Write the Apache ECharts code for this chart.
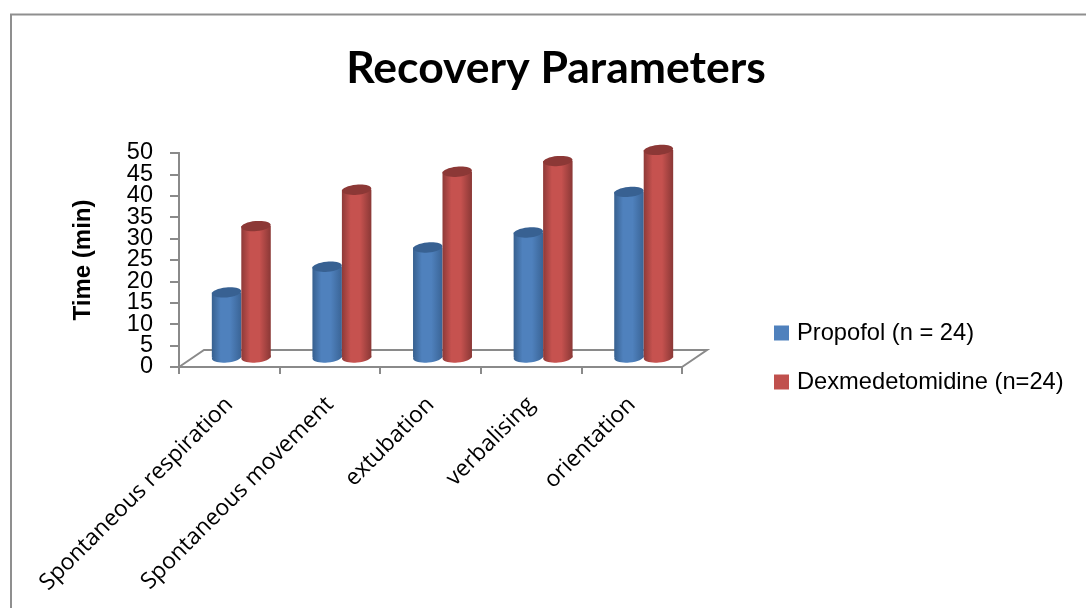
<!DOCTYPE html>
<html>
<head>
<meta charset="utf-8">
<style>html,body{margin:0;padding:0;background:#fff}#chart{width:1086px;height:608px}</style>
<script src="https://cdn.jsdelivr.net/npm/echarts@6/dist/echarts.min.js"></script>
</head>
<body>
<div id="chart"></div>
<script>
// Recovery times per milestone, in minutes
const categories = ['Spontaneous respiration', 'Spontaneous movement', 'extubation', 'verbalising', 'orientation'];
const propofol = [15.2, 21.2, 25.7, 29.2, 38.7];
const dexmedetomidine = [30.7, 39.2, 43.4, 45.9, 48.5];
const valueRange = { min: 0, max: 50 };
const decadeTicks = [0, 10, 20, 30, 40, 50];
const midTicks = [5, 15, 25, 35, 45];

// Pseudo-3D depth of the floor and of the column row standing on it
const FLOOR_DX = 25, FLOOR_DY = 17;
const ROW_DX = 12, ROW_DY = 9.5;
const COLUMN_RATIO = 0.293, ELLIPSE_RY = 5, TILT = 0.09;
const AXIS_COLOR = '#8a8a8a';

function shaded(edgeL, mid, edgeR) {
  return {
    type: 'linear', x: 0, y: 0, x2: 1, y2: 0,
    colorStops: [
      { offset: 0, color: edgeL }, { offset: 0.3, color: mid },
      { offset: 0.62, color: mid }, { offset: 1, color: edgeR }
    ]
  };
}

function cylinder(side, palette) {
  return function (params, api) {
    const x0 = api.coord([api.value(0), 0]);
    const top = api.coord([api.value(0), api.value(1)]);
    const w = api.size([1, 0])[0] * COLUMN_RATIO;
    const left = x0[0] + ROW_DX + (side < 0 ? -w : 0);
    const baseY = x0[1] - ROW_DY, topY = top[1] - ROW_DY;
    const cx = left + w / 2;
    const fill = shaded(palette.edgeL, palette.mid, palette.edgeR);
    return {
      type: 'group',
      children: [
        { type: 'ellipse', shape: { cx, cy: baseY, rx: w / 2, ry: ELLIPSE_RY }, rotation: TILT, originX: cx, originY: baseY, style: { fill } },
        { type: 'rect', shape: { x: left, y: topY, width: w, height: baseY - topY }, style: { fill } },
        { type: 'ellipse', shape: { cx, cy: topY, rx: w / 2, ry: ELLIPSE_RY }, rotation: TILT, originX: cx, originY: topY, style: { fill: palette.cap } }
      ]
    };
  };
}

// Floor outline behind the columns, derived from the plot rectangle
function floor(params, api) {
  const r = params.coordSys;
  const bottom = r.y + r.height, right = r.x + r.width;
  const style = { stroke: AXIS_COLOR, lineWidth: 2, fill: 'none' };
  return {
    type: 'polyline', silent: true,
    shape: { points: [[r.x, bottom], [r.x + FLOOR_DX, bottom - FLOOR_DY], [right + FLOOR_DX, bottom - FLOOR_DY], [right, bottom]] },
    style
  };
}

// The tick labels are packed tightly, so they are split over two coincident
// value axes to stop the neighbouring labels from hiding one another.
function valueAxis(ticks, extra) {
  return Object.assign({
    type: 'value', ...valueRange,
    splitLine: { show: false },
    axisLine: { show: true, lineStyle: { color: AXIS_COLOR, width: 2 } },
    axisTick: { show: true, length: 9, customValues: ticks, lineStyle: { color: AXIS_COLOR, width: 2 } },
    axisLabel: { margin: 26, padding: [5, 0, 0, 0], customValues: ticks, fontFamily: 'Liberation Sans', fontSize: 23.5, color: '#000' }
  }, extra);
}

const chart = echarts.init(document.getElementById('chart'), null, { renderer: 'canvas' });
chart.setOption({
  animation: false,
  backgroundColor: '#fff',
  graphic: [{
    type: 'rect', silent: true,
    shape: { x: 11, y: 14.5, width: 1200, height: 800 },
    style: { fill: 'none', stroke: '#8f8f8f', lineWidth: 2 }
  }],
  title: {
    text: 'Recovery Parameters', left: 551, top: 41, textAlign: 'center',
    textStyle: { fontFamily: 'Lato', fontWeight: 'bold', fontSize: 44.5, color: '#000' }
  },
  legend: {
    orient: 'vertical', left: 774, top: 321, itemGap: 25, itemWidth: 15, itemHeight: 15, padding: 0,
    icon: 'rect', selectedMode: false,
    data: ['Propofol (n = 24)', 'Dexmedetomidine (n=24)'],
    textStyle: { fontFamily: 'Liberation Sans', fontSize: 23.7, color: '#000', padding: [0, 0, 0, 3] }
  },
  grid: { left: 179, top: 153, width: 503, height: 214 },
  xAxis: {
    type: 'category', data: categories,
    axisLine: { lineStyle: { color: AXIS_COLOR, width: 2 } },
    axisTick: { show: true, alignWithLabel: false, length: 7, lineStyle: { color: AXIS_COLOR, width: 2 } },
    axisLabel: { rotate: 45, margin: 34, interval: 0, fontFamily: 'Open Sans', fontSize: 22.8, color: '#000' }
  },
  yAxis: [
    valueAxis(decadeTicks, {
      name: 'Time (min)', nameLocation: 'middle', nameRotate: 90, nameGap: 84,
      nameTextStyle: { fontFamily: 'Liberation Sans', fontWeight: 'bold', fontSize: 24, color: '#000' }
    }),
    valueAxis(midTicks, { position: 'left' })
  ],
  series: [
    { type: 'custom', coordinateSystem: 'cartesian2d', renderItem: floor, data: [[0, 0]], silent: true, z: 1 },
    {
      name: 'Propofol (n = 24)', type: 'custom', coordinateSystem: 'cartesian2d', z: 2,
      itemStyle: { color: '#4f81bd' },
      renderItem: cylinder(-1, { edgeL: '#37608f', mid: '#4f81bd', edgeR: '#3a6496', cap: '#386192' }),
      encode: { x: 0, y: 1 },
      data: propofol.map((v, i) => [i, v])
    },
    {
      name: 'Dexmedetomidine (n=24)', type: 'custom', coordinateSystem: 'cartesian2d', z: 3,
      itemStyle: { color: '#c0504d' },
      renderItem: cylinder(1, { edgeL: '#8e3a38', mid: '#c6524f', edgeR: '#8a3836', cap: '#8c3836' }),
      encode: { x: 0, y: 1 },
      data: dexmedetomidine.map((v, i) => [i, v])
    }
  ]
});
</script>
</body>
</html>
